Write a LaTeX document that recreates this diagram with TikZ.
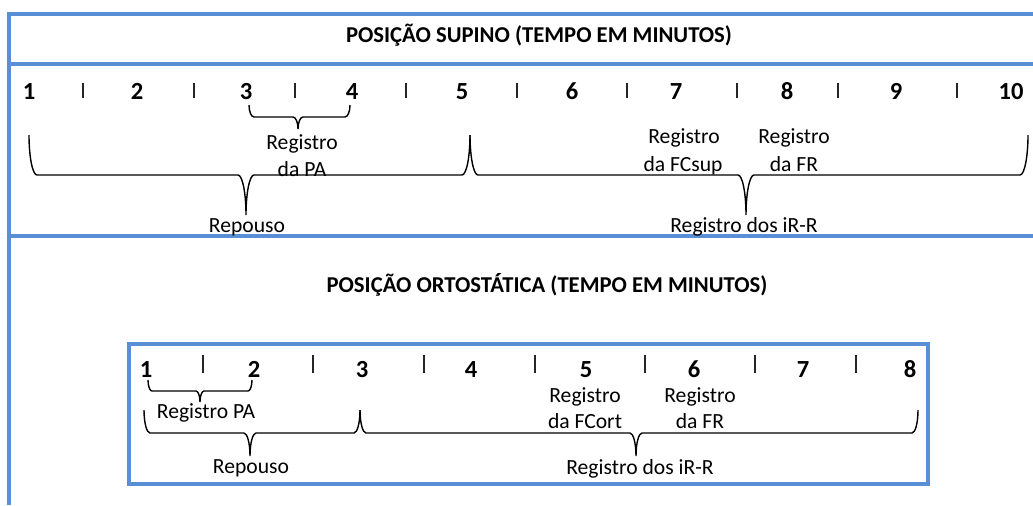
\documentclass[tikz,border=0pt]{standalone}
\usepackage{fontspec}
\setmainfont{Carlito}
\definecolor{frameblue}{RGB}{88,143,214}
% horizontal curly brace opening upward: x1, x2, xm (tip), ytop, yline, ytip, rx
\newcommand{\hbrace}[7]{%
  \draw[bracepath] (#1,#4) .. controls +(0,{0.55*(#5-#4)}) and +({-0.55*#7},0) .. ({#1+#7},#5)
    -- ({#3-#7},#5) .. controls +({0.55*#7},0) and +(0,{-0.55*(#6-#5)}) .. (#3,#6)
    .. controls +(0,{-0.55*(#6-#5)}) and +({-0.55*#7},0) .. ({#3+#7},#5)
    -- ({#2-#7},#5) .. controls +({0.55*#7},0) and +(0,{0.55*(#5-#4)}) .. (#2,#4);}
\begin{document}
\begin{tikzpicture}[x=0.02cm,y=-0.02cm,
  frameline/.style={draw=frameblue,line width=2pt},
  bracepath/.style={draw=black,line width=0.8pt},
  tickline/.style={draw=black!85,line width=1.1pt},
  ttl/.style={font=\fontsize{12.9}{15}\selectfont\bfseries,anchor=base,inner sep=0pt},
  num/.style={font=\fontsize{14}{16}\selectfont\bfseries,anchor=base,inner sep=0pt},
  lbl/.style={font=\fontsize{12.3}{15}\selectfont,anchor=base,inner sep=0pt}]
\useasboundingbox (0,0) rectangle (1033,505);
\fill[white] (0,0) rectangle (1033,505);
% outer frame
\draw[frameline] (1033,14) -- (9,14) -- (9,505);
\draw[frameline] (9,64) -- (1033,64);
\draw[frameline] (9,236) -- (1033,236);
% inner box
\draw[frameline] (129,344) rectangle (928,484);

% ---- supine ----
\node[ttl] (t1) at (539,42) {POSIÇÃO SUPINO (TEMPO EM MINUTOS)};
\foreach \n/\x in {1/29,2/137,3/246,4/352,5/462,6/572,7/676,8/787,9/896,10/1011}
  \node[num] (s\n) at (\x,99) {\n};
\foreach \x in {83,194,295,406,517,627,737,838,957}
  \draw[tickline] (\x,83) -- (\x,98);
\hbrace{249}{350}{298}{105}{117}{129}{5}
\hbrace{29}{470}{246}{135}{175}{215}{8}
\hbrace{470}{1028}{746}{135}{175}{215}{8}
\node[lbl] (pa1) at (302,149) {Registro};
\node[lbl] (pa2) at (302,176) {da PA};
\node[lbl] (rep1) at (247,232) {Repouso};
\node[lbl] (fcs1) at (684,143) {Registro};
\node[lbl] (fcs2) at (683,171) {da FCsup};
\node[lbl] (fr1) at (794,143) {Registro};
\node[lbl] (fr2) at (794,171) {da FR};
\node[lbl] (irr1) at (744,232) {Registro dos iR-R};

% ---- orthostatic ----
\node[ttl] (t2) at (547,292) {POSIÇÃO ORTOSTÁTICA (TEMPO EM MINUTOS)};
\foreach \n/\x in {1/146,2/254,3/362,4/471,5/586,6/694,7/803,8/910}
  \node[num] (o\n) at (\x,377) {\n};
\foreach \x in {203,313,424,535,645,755,856}
  \draw[tickline] (\x,355) -- (\x,373);
\hbrace{148}{252}{200}{380}{391}{402}{4}
\hbrace{144}{360}{250}{410}{433}{456}{6}
\hbrace{360}{918}{636}{410}{433}{456}{6}
\node[lbl] (rpa) at (206,418) {Registro PA};
\node[lbl] (rep2) at (251,473) {Repouso};
\node[lbl] (fco1) at (585,402) {Registro};
\node[lbl] (fco2) at (585,428) {da FCort};
\node[lbl] (fro1) at (700,402) {Registro};
\node[lbl] (fro2) at (700,428) {da FR};
\node[lbl] (irr2) at (640,474) {Registro dos iR-R};
\end{tikzpicture}
\end{document}
